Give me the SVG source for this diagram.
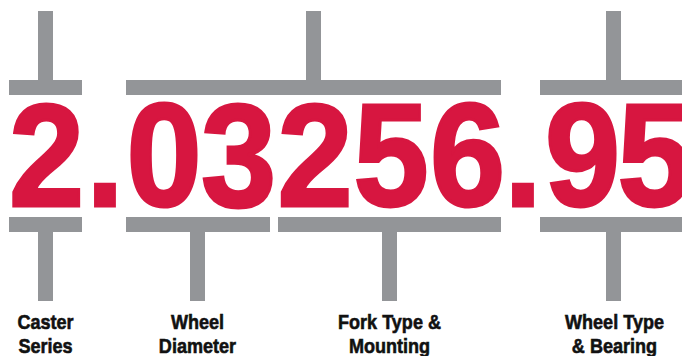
<svg xmlns="http://www.w3.org/2000/svg" width="682" height="356" viewBox="0 0 682 356">
<style>
.bar{fill:#939598}
.dg{font-family:"Liberation Sans",Arial,sans-serif;font-weight:bold;font-size:147px;fill:#D71640;stroke:#D71640;stroke-width:3;stroke-linejoin:miter;text-anchor:middle}
.lb{font-family:"Liberation Sans",Arial,sans-serif;font-weight:bold;font-size:21px;fill:#111;stroke:#111;stroke-width:0.6;text-anchor:middle}
</style>
<rect width="682" height="356" fill="#fff"/>
<g id="connectors">
<rect class="bar" x="38" y="11" width="15" height="70"/>
<rect class="bar" x="9" y="80" width="73" height="15"/>
<rect class="bar" x="306" y="11" width="15" height="70"/>
<rect class="bar" x="126" y="80" width="375" height="15"/>
<rect class="bar" x="606" y="11" width="15" height="70"/>
<rect class="bar" x="540" y="80" width="142" height="15"/>
<rect class="bar" x="9" y="217" width="73" height="15"/>
<rect class="bar" x="126" y="217" width="144" height="15"/>
<rect class="bar" x="278" y="217" width="223" height="15"/>
<rect class="bar" x="540" y="217" width="142" height="15"/>
<rect class="bar" x="38" y="231" width="15" height="70"/>
<rect class="bar" x="190" y="231" width="15" height="70"/>
<rect class="bar" x="382" y="231" width="15" height="70"/>
<rect class="bar" x="606" y="231" width="15" height="70"/>
</g>
<g id="number">
<text class="dg" transform="translate(46.5 205.5) scale(0.92 1)">2</text>
<text class="dg" transform="translate(105 205.5) scale(0.92 1)">.</text>
<text class="dg" transform="translate(164 205.5) scale(0.92 1)">0</text>
<text class="dg" transform="translate(238.5 205.5) scale(0.92 1)">3</text>
<text class="dg" transform="translate(315 205.5) scale(0.92 1)">2</text>
<text class="dg" transform="translate(391 205.5) scale(0.92 1)">5</text>
<text class="dg" transform="translate(467.5 205.5) scale(0.92 1)">6</text>
<text class="dg" transform="translate(523 205.5) scale(0.92 1)">.</text>
<text class="dg" transform="translate(582.5 205.5) scale(0.92 1)">9</text>
<text class="dg" transform="translate(655 205.5) scale(0.92 1)">5</text>
</g>
<g id="caster-series">
<text class="lb" transform="translate(45.5 0) scale(0.86 1)"><tspan x="0" y="329">Caster</tspan><tspan x="0" y="353">Series</tspan></text>
</g>
<g id="wheel-diameter">
<text class="lb" transform="translate(197.5 0) scale(0.86 1)"><tspan x="0" y="329">Wheel</tspan><tspan x="0" y="353">Diameter</tspan></text>
</g>
<g id="fork-type">
<text class="lb" transform="translate(389.5 0) scale(0.86 1)"><tspan x="0" y="329">Fork Type &amp;</tspan><tspan x="0" y="353">Mounting</tspan></text>
</g>
<g id="wheel-type">
<text class="lb" transform="translate(614.5 0) scale(0.86 1)"><tspan x="0" y="329">Wheel Type</tspan><tspan x="0" y="353">&amp; Bearing</tspan></text>
</g>
</svg>
